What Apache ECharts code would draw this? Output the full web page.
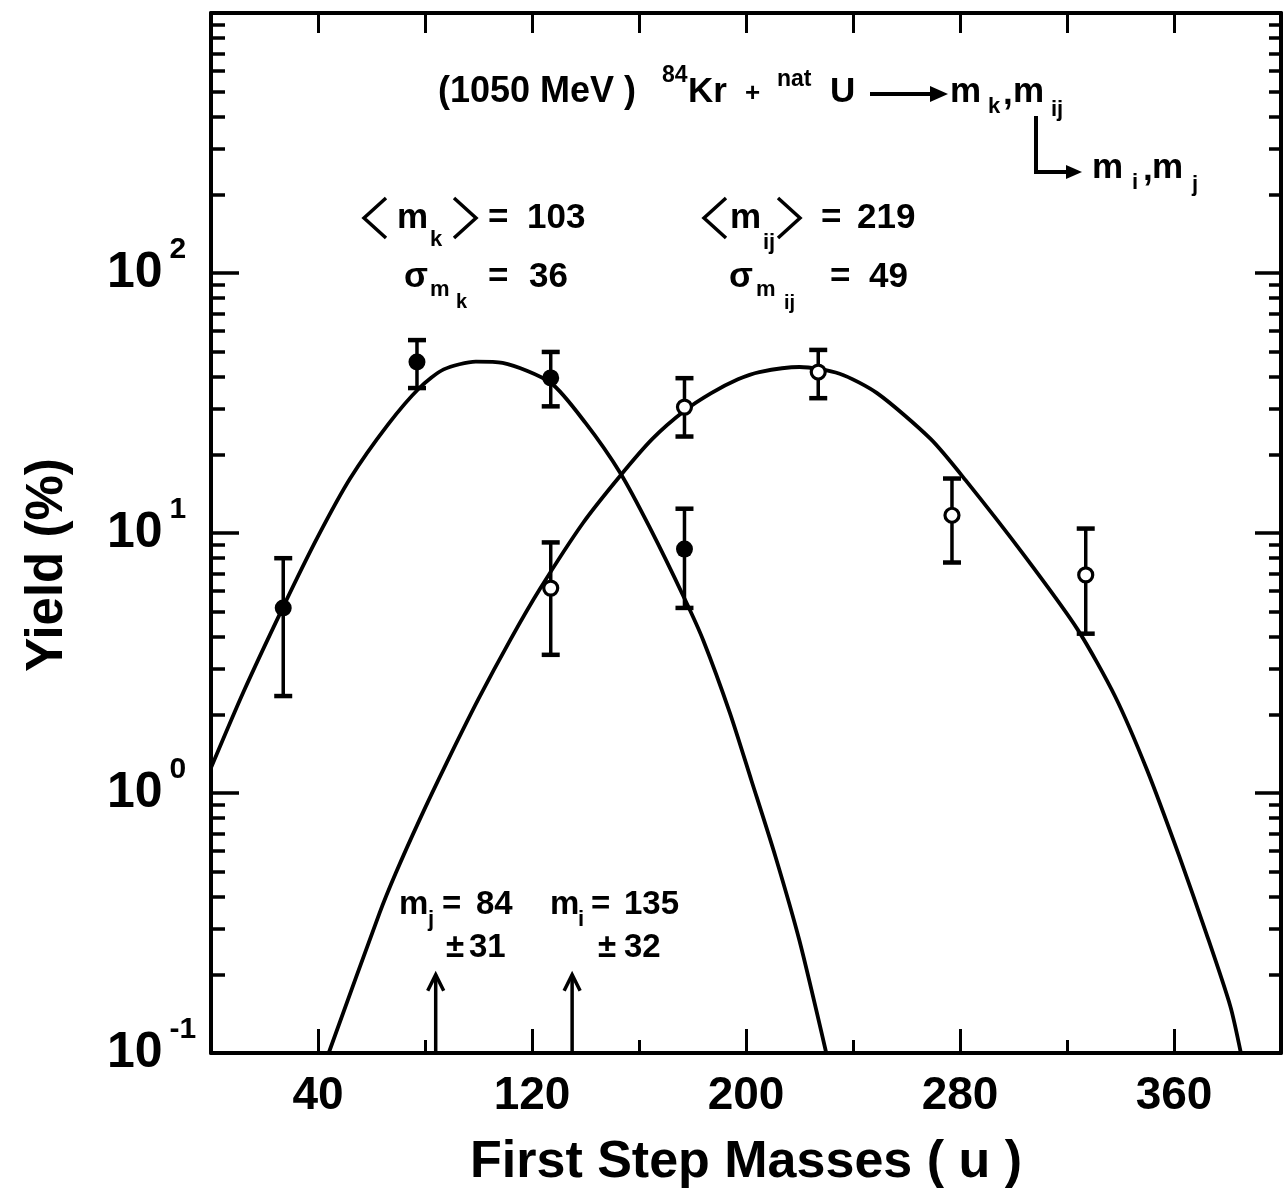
<!DOCTYPE html>
<html><head><meta charset="utf-8">
<script src="https://cdn.jsdelivr.net/npm/echarts@6/dist/echarts.min.js"></script>
<style>html,body{margin:0;padding:0;background:#fff}#c{width:1287px;height:1200px}</style>
</head><body><div id="c"></div>
<script>
// ---- tick values ----
const xTickMajor = [40, 120, 200, 280, 360];
const xTickMinor = [80, 160, 240, 320];
const xTickTop = [40, 80, 120, 160, 200, 240, 280, 320, 360];
const yDecades = [0.1, 1, 10, 100, 1000];
const yLabelValues = [0.1, 1, 10, 100];
const yMinor = [0.2,0.3,0.4,0.5,0.6,0.7,0.8,0.9, 2,3,4,5,6,7,8,9, 20,30,40,50,60,70,80,90, 200,300,400,500,600,700,800,900];

// ---- fitted curves ----
const mkFitMass  = [0, 12, 27, 40, 52, 66, 78, 87, 99, 109, 127, 140, 153, 164, 177, 184, 194, 202, 211, 220, 230];
const mkFitYield = [1.25, 2.43, 5.2, 9.7, 16.2, 26.0, 36.2, 42.6, 45.6, 45.1, 37.8, 26.5, 17, 10.5, 5.6, 3.87, 2.03, 1.12, 0.57, 0.27, 0.1];
const mijFitMass  = [44, 63, 69, 78, 88, 100, 112, 123, 139, 153, 165, 177, 187, 197, 205, 220, 235, 249, 269, 282, 304, 324, 338, 350, 362, 372, 381, 385];
const mijFitYield = [0.1, 0.345, 0.49, 0.79, 1.3, 2.3, 3.9, 6.1, 10.9, 16.6, 23, 29.5, 34.5, 39, 41.6, 43.5, 41, 34.5, 23, 16, 8.2, 4.25, 2.35, 1.22, 0.57, 0.29, 0.152, 0.1];

// ---- measured points (filled: m_k, open: m_ij) ----
const filledMass  = [27, 77, 127, 177];
const filledYield = [5.15, 45.5, 39.5, 8.67];
const filledLow   = [2.36, 36.1, 30.7, 5.15];
const filledHigh  = [8.0, 55.2, 49.7, 12.4];
const openMass  = [127, 177, 227, 277, 327];
const openYield = [6.14, 30.5, 41.6, 11.7, 6.9];
const openLow   = [3.4, 23.5, 33, 7.7, 4.1];
const openHigh  = [9.2, 39.4, 50.6, 16.2, 10.4];

// ---- arrows m_j, m_i ----
const arrowMass = [84, 135];
const arrowTop  = [0.2, 0.2];

const FONT = "'Liberation Sans', Arial, sans-serif";
const chart = echarts.init(document.getElementById('c'), null, {renderer: 'canvas'});

const pts = (xs, ys) => xs.map((x, i) => [x, ys[i]]);
const errData = (xs, ys, lo, hi, open) => xs.map((x, i) => [x, ys[i], lo[i], hi[i], open]);

function renderErr(params, api) {
  const x = api.value(0), y = api.value(1), lo = api.value(2), hi = api.value(3), open = api.value(4);
  const p = api.coord([x, y]), pl = api.coord([x, lo]), ph = api.coord([x, hi]);
  const cw = 9;
  return {type: 'group', children: [
    {type: 'line', shape: {x1: p[0], y1: pl[1], x2: p[0], y2: ph[1]}, style: {stroke: '#000', lineWidth: 3.5}},
    {type: 'line', shape: {x1: p[0]-cw, y1: ph[1], x2: p[0]+cw, y2: ph[1]}, style: {stroke: '#000', lineWidth: 4.5}},
    {type: 'line', shape: {x1: p[0]-cw, y1: pl[1], x2: p[0]+cw, y2: pl[1]}, style: {stroke: '#000', lineWidth: 4.5}},
    {type: 'circle', shape: {cx: p[0], cy: p[1], r: open ? 7 : 8.5},
     style: {fill: open ? '#fff' : '#000', stroke: '#000', lineWidth: open ? 3.2 : 0}}
  ]};
}
function renderArrow(params, api) {
  const x = api.value(0), top = api.value(1);
  const pb = api.coord([x, 0.1]), pt = api.coord([x, top]);
  return {type: 'group', children: [
    {type: 'line', shape: {x1: pb[0], y1: pb[1], x2: pt[0], y2: pt[1]}, style: {stroke: '#000', lineWidth: 3.5}},
    {type: 'polyline', shape: {points: [[pt[0]-8, pt[1]+16], [pt[0], pt[1]], [pt[0]+8, pt[1]+16]]},
     style: {stroke: '#000', lineWidth: 3.5, fill: null}}
  ]};
}

// annotation helpers
function T(x, y, text, size) {
  return {type: 'text', x: x, y: y, z: 100, style: {text: text, fill: '#000', fontSize: size || 35, fontWeight: 'bold', fontFamily: FONT, align: 'left', verticalAlign: 'middle'}};
}
function PL(points, w) {
  return {type: 'polyline', z: 100, shape: {points: points}, style: {stroke: '#000', lineWidth: w || 3.5, fill: null}};
}
function TRI(points) {
  return {type: 'polygon', z: 100, shape: {points: points}, style: {fill: '#000'}};
}

const annotations = [
  T(438, 92, '(1050 MeV )', 36), T(662, 76, '84', 23), T(688, 92, 'Kr'), T(745, 94, '+', 26),
  T(777, 80, 'nat', 23), T(830, 92, 'U'),
  PL([[870, 94], [936, 94]], 4), TRI([[930, 86], [948, 94], [930, 102]]),
  T(950, 92, 'm'), T(988, 107, 'k', 22), T(1003, 94, ','), T(1013, 92, 'm'), T(1051, 110, 'ij', 22),
  PL([[1036, 116], [1036, 172], [1070, 172]], 4), TRI([[1066, 165], [1082, 172], [1066, 179]]),
  T(1092, 168, 'm'), T(1132, 183, 'i', 22), T(1143, 170, ','), T(1152, 168, 'm'), T(1192, 185, 'j', 22),
  // <m_k> = 103
  PL([[386, 198], [364, 218], [386, 238]], 3.5), T(397, 218, 'm'), T(430, 240, 'k', 22),
  PL([[454, 198], [476, 218], [454, 238]], 3.5), T(488, 218, '='), T(527, 218, '103'),
  T(404, 277, 'σ'), T(430, 290, 'm', 22), T(456, 302, 'k', 20), T(488, 277, '='), T(529, 277, '36'),
  // <m_ij> = 219
  PL([[726, 198], [704, 218], [726, 238]], 3.5), T(730, 218, 'm'), T(763, 243, 'ij', 22),
  PL([[778, 198], [800, 218], [778, 238]], 3.5), T(821, 218, '='), T(857, 218, '219'),
  T(729, 277, 'σ'), T(756, 290, 'm', 22), T(784, 303, 'ij', 20), T(830, 277, '='), T(869, 277, '49'),
  // m_j, m_i
  T(399, 905, 'm', 33), T(428, 920, 'j', 22), T(442, 905, '=', 33), T(476, 905, '84', 33),
  T(446, 948, '±', 33), T(469, 948, '31', 33),
  T(550, 905, 'm', 33), T(578, 920, 'i', 22), T(591, 905, '=', 33), T(624, 905, '135', 33),
  T(598, 948, '±', 33), T(624, 948, '32', 33),
  // y title
  {type: 'text', x: 48, y: 565, rotation: Math.PI / 2, style: {text: 'Yield (%)', fill: '#000', fontSize: 51, fontWeight: 'bold', fontFamily: FONT, align: 'center', verticalAlign: 'middle'}}
];

const axisLineStyle = {color: '#000', width: 4};
const option = {
  animation: false,
  backgroundColor: '#fff',
  grid: {left: 211, right: 6, top: 13, bottom: 147, containLabel: false, outerBoundsMode: 'none'},
  xAxis: [
    {type: 'value', position: 'bottom', min: 0, max: 400, interval: 40,
     axisLine: {show: true, onZero: false, lineStyle: axisLineStyle},
     axisTick: {show: true, inside: true, length: 24, lineStyle: {color: '#000', width: 3}, customValues: xTickMajor},
     axisLabel: {show: true, customValues: xTickMajor, margin: 20, fontSize: 46, fontWeight: 'bold', fontFamily: FONT, color: '#000'},
     splitLine: {show: false},
     name: 'First Step Masses ( u )', nameLocation: 'middle', nameGap: 84,
     nameTextStyle: {fontSize: 52, fontWeight: 'bold', fontFamily: FONT, color: '#000'}},
    {type: 'value', position: 'bottom', min: 0, max: 400, interval: 40,
     axisLine: {show: false, onZero: false},
     axisTick: {show: true, inside: true, length: 13, lineStyle: {color: '#000', width: 3}, customValues: xTickMinor},
     axisLabel: {show: false}, splitLine: {show: false}},
    {type: 'value', position: 'top', min: 0, max: 400, interval: 40,
     axisLine: {show: true, onZero: false, lineStyle: axisLineStyle},
     axisTick: {show: true, inside: true, length: 20, lineStyle: {color: '#000', width: 3}, customValues: xTickTop},
     axisLabel: {show: false}, splitLine: {show: false}}
  ],
  yAxis: [
    {type: 'log', logBase: 10, position: 'left', min: 0.1, max: 1000,
     axisLine: {show: true, onZero: false, lineStyle: axisLineStyle},
     axisTick: {show: true, inside: true, length: 28, lineStyle: {color: '#000', width: 3.5}, customValues: yDecades},
     axisLabel: {show: true, customValues: yLabelValues, align: 'left', margin: 104,
       formatter: v => { const e = Math.round(Math.log10(v)); return '{b|10}{s|' + (e < 0 ? '-1' : e) + '}'; },
       rich: {b: {fontSize: 50, fontWeight: 'bold', fontFamily: FONT, color: '#000', lineHeight: 76},
              s: {fontSize: 30, fontWeight: 'bold', fontFamily: FONT, color: '#000', verticalAlign: 'top', lineHeight: 30, padding: [0, 0, 0, 7]}}},
     splitLine: {show: false}},
    {type: 'log', logBase: 10, position: 'left', min: 0.1, max: 1000,
     axisLine: {show: false, onZero: false},
     axisTick: {show: true, inside: true, length: 14, lineStyle: {color: '#000', width: 3.5}, customValues: yMinor},
     axisLabel: {show: false}, splitLine: {show: false}},
    {type: 'log', logBase: 10, position: 'right', min: 0.1, max: 1000,
     axisLine: {show: true, onZero: false, lineStyle: axisLineStyle},
     axisTick: {show: true, inside: true, length: 26, lineStyle: {color: '#000', width: 3.5}, customValues: yDecades},
     axisLabel: {show: false}, splitLine: {show: false}},
    {type: 'log', logBase: 10, position: 'right', min: 0.1, max: 1000,
     axisLine: {show: false, onZero: false},
     axisTick: {show: true, inside: true, length: 12, lineStyle: {color: '#000', width: 3.5}, customValues: yMinor},
     axisLabel: {show: false}, splitLine: {show: false}}
  ],
  series: [
    {type: 'line', name: 'mk fit', data: pts(mkFitMass, mkFitYield), smooth: 0.25, showSymbol: false,
     lineStyle: {color: '#000', width: 3.8}, clip: true, z: 3},
    {type: 'line', name: 'mij fit', data: pts(mijFitMass, mijFitYield), smooth: 0.25, showSymbol: false,
     lineStyle: {color: '#000', width: 3.8}, clip: true, z: 3},
    {type: 'custom', name: 'mk data', renderItem: renderErr, data: errData(filledMass, filledYield, filledLow, filledHigh, 0),
     encode: {x: 0, y: 1}, z: 5},
    {type: 'custom', name: 'mij data', renderItem: renderErr, data: errData(openMass, openYield, openLow, openHigh, 1),
     encode: {x: 0, y: 1}, z: 5},
    {type: 'custom', name: 'arrows', renderItem: renderArrow, data: pts(arrowMass, arrowTop), encode: {x: 0, y: 1}, z: 5}
  ],
  graphic: {elements: annotations}
};
chart.setOption(option);
</script>
</body></html>
